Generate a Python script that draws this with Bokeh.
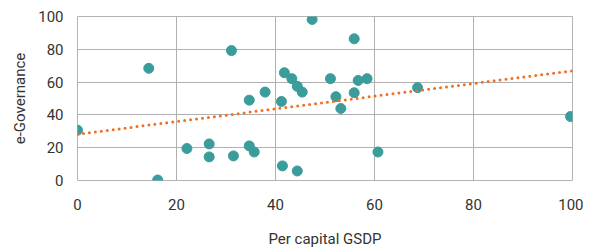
from bokeh.plotting import figure
from bokeh.models import Range1d, FixedTicker
from bokeh.embed import file_html
from bokeh.resources import INLINE

# Data
gsdp = [0.0, 14.4, 16.2, 22.1, 26.6, 26.6, 31.1, 31.5, 34.7, 34.7, 35.7, 37.9,
        41.2, 41.4, 41.8, 43.3, 44.4, 45.4, 44.4, 47.4, 51.1, 52.2, 53.2, 55.9,
        55.9, 56.7, 58.5, 60.7, 68.7, 99.6]
egov = [30.7, 68.4, 0.3, 19.5, 22.3, 14.4, 79.2, 15.0, 49.0, 21.1, 17.4, 53.9,
        48.2, 8.9, 65.7, 62.1, 57.4, 53.9, 5.8, 98.2, 62.1, 51.1, 43.9, 86.4,
        53.5, 61.0, 62.1, 17.4, 56.6, 39.0]
trend_x = [0, 100]
trend_y = [28.2, 66.9]
ticks = [0, 20, 40, 60, 80, 100]

FONT = "Roboto"

p = figure(width=583, height=250, output_backend="svg", toolbar_location=None,
           x_range=Range1d(0, 100), y_range=Range1d(0, 100),
           min_border_left=77, min_border_right=11, min_border_top=16,
           min_border_bottom=70)

p.outline_line_color = "#b4b4b4"
p.outline_line_width = 1
for ax in (p.xaxis, p.yaxis):
    ax.ticker = FixedTicker(ticks=ticks)
    ax.axis_line_color = None
    ax.major_tick_line_color = None
    ax.minor_tick_line_color = None
    ax.major_label_text_font = FONT
    ax.major_label_text_font_size = "15px"
    ax.major_label_text_color = "#333333"
    ax.axis_label_text_font = FONT
    ax.axis_label_text_font_size = "15px"
    ax.axis_label_text_font_style = "normal"
    ax.axis_label_text_color = "#333333"

p.xaxis.axis_label = "Per capital GSDP"
p.yaxis.axis_label = "e-Governance"
p.xaxis.major_label_standoff = 12
p.xaxis.axis_label_standoff = 17
p.yaxis.major_label_standoff = 8
p.yaxis.axis_label_standoff = 6

p.grid.grid_line_color = "#b0b0b0"
p.grid.grid_line_width = 1
p.xgrid.ticker = FixedTicker(ticks=ticks)
p.ygrid.ticker = FixedTicker(ticks=ticks)

p.scatter(gsdp, egov, size=10, fill_color="#3a9d9b", line_color="#3a9d9b")
p.line(trend_x, trend_y, line_color="#f07022", line_width=3,
       line_dash="0 6", line_cap="round")

open("out.html", "w").write(file_html(p, INLINE))
